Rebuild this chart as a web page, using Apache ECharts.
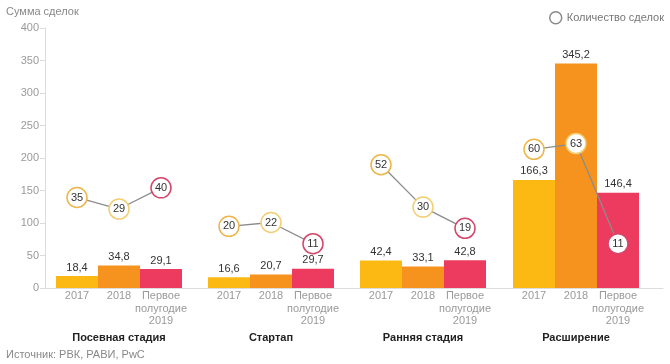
<!DOCTYPE html>
<html>
<head>
<meta charset="utf-8">
<script src="https://cdn.jsdelivr.net/npm/echarts@6/dist/echarts.min.js"></script>
<style>
html,body{margin:0;padding:0;background:#fff;}
#chart{width:670px;height:364px;}
</style>
</head>
<body>
<div id="chart"></div>
<script>
// ---- data ----
var groups = ['Посевная стадия', 'Стартап', 'Ранняя стадия', 'Расширение'];
var periods = ['2017', '2018', 'Первое\nполугодие\n2019'];
var sums2017 = [18.4, 16.6, 42.4, 166.3];
var sums2018 = [34.8, 20.7, 33.1, 345.2];
var sumsH12019 = [29.1, 29.7, 42.8, 146.4];
var deals2017 = [35, 20, 52, 60];
var deals2018 = [29, 22, 30, 63];
var dealsH12019 = [40, 11, 19, 11];
var yMin = 0, yMax = 400, yStep = 50;
var leftTitle = 'Сумма сделок';
var legendName = 'Количество сделок';
var sourceText = 'Источник: РВК, РАВИ, PwC';

// ---- styles ----
var FONT = '"Liberation Sans", Arial, Helvetica, sans-serif';
var barColors = ['#FDB913', '#F6921E', '#EC3B5E'];
var circleColors = ['#EDB54A', '#F3CE73', '#D6456A'];
var groupLeft = [56, 208, 360, 513];
var groupWidth = 126;
var gridTop = 28, gridBottom = 76;

function fmt(v){ return v.toFixed(1).replace('.', ','); }

var chart = echarts.init(document.getElementById('chart'), null, {renderer:'canvas'});

var grids = [{left:45, right:7, top:gridTop, bottom:gridBottom}];
var xAxes = [{gridIndex:0, type:'value', min:0, max:1, axisLine:{show:true, lineStyle:{color:'#dcdcdc', width:1}},
  axisTick:{show:false}, axisLabel:{show:false}, splitLine:{show:false}}];
var yAxes = [{gridIndex:0, type:'value', min:yMin, max:yMax, interval:yStep,
  axisLine:{show:true, lineStyle:{color:'#dcdcdc'}},
  axisTick:{show:true, length:5, lineStyle:{color:'#dcdcdc'}},
  axisLabel:{color:'#9a9a9a', fontSize:11, fontFamily:FONT, margin:6},
  splitLine:{show:false}}];
var series = [];

for (var g = 0; g < groups.length; g++) {
  grids.push({left:groupLeft[g], width:groupWidth, top:gridTop, bottom:gridBottom});
  var gi = g + 1;
  xAxes.push({gridIndex:gi, type:'category', data:periods,
    axisLine:{show:false}, axisTick:{show:false},
    axisLabel:{color:'#9a9a9a', fontSize:11, fontFamily:FONT, lineHeight:12.5, margin:2, interval:0},
    name:groups[g], nameLocation:'middle', nameGap:37,
    nameTextStyle:{color:'#222', fontSize:11, fontWeight:'bold', fontFamily:FONT}});
  var yBar = yAxes.length;
  yAxes.push({gridIndex:gi, type:'value', min:yMin, max:yMax, show:false, splitLine:{show:false}});
  var yDeal = yAxes.length;
  yAxes.push({gridIndex:gi, type:'value', min:-12, max:123, show:false, splitLine:{show:false}});

  var sums = [sums2017[g], sums2018[g], sumsH12019[g]];
  var deals = [deals2017[g], deals2018[g], dealsH12019[g]];
  series.push({
    type:'bar', name:leftTitle, xAxisIndex:gi, yAxisIndex:yBar,
    barCategoryGap:'0%', barGap:'0%', z:2,
    data: sums.map(function(v, i){ return {value:v, itemStyle:{color:barColors[i]}}; }),
    label:{show:true, position:'top', distance:3, color:'#333', fontSize:11, fontFamily:FONT,
      formatter:function(p){ return fmt(p.value); }},
    emphasis:{disabled:true}, animation:false
  });
  series.push({
    type:'line', name:legendName, xAxisIndex:gi, yAxisIndex:yDeal, z:5,
    symbol:'circle', symbolSize:20,
    itemStyle:{color:'#fff', borderColor:'#999', borderWidth:1.5},
    lineStyle:{color:'#8c8c8c', width:1.3},
    data: deals.map(function(v, i){ return {value:v, itemStyle:{color:'#fff', borderColor:circleColors[i], borderWidth:1.5}}; }),
    label:{show:true, position:'inside', color:'#333', fontSize:11, fontFamily:FONT},
    emphasis:{disabled:true}, animation:false
  });
}

chart.setOption({
  backgroundColor:'#fff',
  animation:false,
  textStyle:{fontFamily:FONT},
  grid:grids, xAxis:xAxes, yAxis:yAxes, series:series,
  legend:{data:[{name:legendName, icon:'circle', itemStyle:{color:'#fff', borderColor:'#8a8a8a', borderWidth:1.5}}],
    right:1, top:6, itemWidth:12, itemHeight:12, itemGap:4,
    textStyle:{color:'#777', fontSize:11, fontFamily:FONT}, selectedMode:false},
  graphic:[
    {type:'text', left:6, top:6, style:{text:leftTitle, fill:'#888', fontSize:11, fontFamily:FONT}},
    {type:'text', left:6, top:349, style:{text:sourceText, fill:'#888', fontSize:11, fontFamily:FONT}}
  ]
});
</script>
</body>
</html>
